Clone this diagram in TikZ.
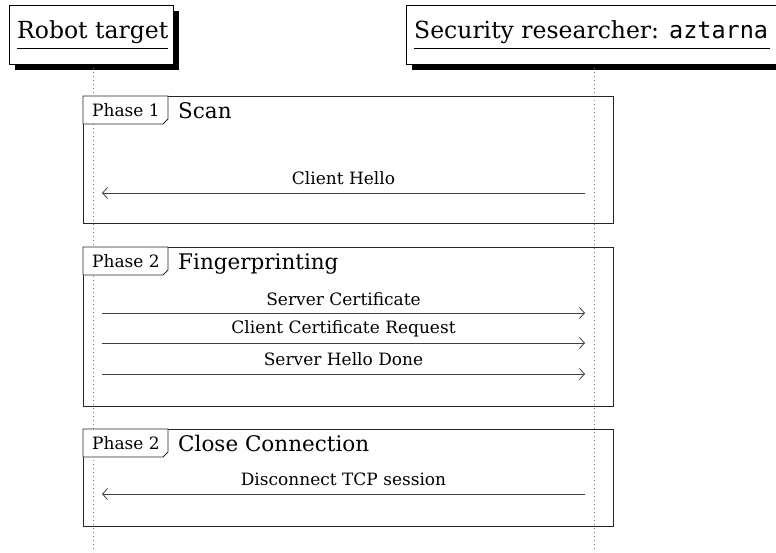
\documentclass[tikz,border=0pt]{standalone}
\usepackage{fontspec}
\setmainfont{DejaVu Serif}
\setmonofont{DejaVu Sans Mono}
\usetikzlibrary{arrows.meta}
\begin{document}
\begin{tikzpicture}[x=1pt,y=-1pt,
  hdrtext/.style={font=\fontsize{23.5}{26}\selectfont, inner sep=0pt, anchor=base west},
  uline/.style={line width=0.7pt},
  lbl/.style={font=\fontsize{17}{20}\selectfont, inner sep=0pt, anchor=base, text=black, yshift=9pt},
  tagtext/.style={font=\fontsize{17}{20}\selectfont, inner sep=0pt, anchor=base west},
  ttltext/.style={font=\fontsize{21.5}{24}\selectfont, inner sep=0pt, anchor=base west},
  life/.style={dash pattern=on 0.8pt off 3.2pt, line width=0.7pt, gray},
  frm/.style={draw=black!85, line width=0.8pt},
  msg/.style={line width=0.8pt, black!75, -{Straight Barb[length=5pt,width=11pt,line width=0.8pt]}}
]
\useasboundingbox (0,0) rectangle (776,552);
% header boxes
\fill[black] (15,11) rectangle (179,70);
\draw[fill=white, line width=0.6pt] (9,5) rectangle (173,64);
\node[hdrtext] (robot) at (17,38) {Robot target};
\draw[uline] ([yshift=-10pt]robot.base west) -- ([yshift=-10pt]robot.base east);
\fill[black] (412,11) rectangle (790,70);
\draw[fill=white, line width=0.6pt] (406,5) rectangle (784,64);
\node[hdrtext] (res) at (414,38) {Security researcher: \texttt{aztarna}};
\draw[uline] ([yshift=-10pt]res.base west) -- ([yshift=-10pt,xshift=2pt]res.base east);
% lifelines
\coordinate (rtop) at (93,68);
\coordinate (rbot) at (93,552);
\coordinate (stop) at (594,68);
\coordinate (sbot) at (594,552);
\draw[life] (rtop) -- (rbot);
\draw[life] (stop) -- (sbot);
% frames
\foreach \t/\b/\ph/\ttl [count=\i] in {96/223/Phase 1/Scan, 247/406/Phase 2/Fingerprinting, 429/526/Phase 2/Close Connection}{
  \draw[frm] (83,\t) rectangle (613,\b);
  \draw[frm, fill=white] (83,\t) -- (168,\t) -- (168,\t+23) -- (163,\t+28) -- (83,\t+28) -- cycle;
  \node[tagtext] at (92,\t+20) {\ph};
  \node[ttltext] at (178,\t+22) {\ttl};
}
% messages
\coordinate (a1s) at (585,193); \coordinate (a1e) at (102,193);
\draw[msg] (a1s) -- node[lbl] (l1) {Client Hello} (a1e);
\coordinate (a2s) at (102,313); \coordinate (a2e) at (585,313);
\draw[msg] (a2s) -- node[lbl, yshift=-1pt] (l2) {Server Certificate} (a2e);
\coordinate (a3s) at (102,343); \coordinate (a3e) at (585,343);
\draw[msg] (a3s) -- node[lbl, yshift=1pt] (l3) {Client Certificate Request} (a3e);
\coordinate (a4s) at (102,374); \coordinate (a4e) at (585,374);
\draw[msg] (a4s) -- node[lbl] (l4) {Server Hello Done} (a4e);
\coordinate (a5s) at (585,494); \coordinate (a5e) at (102,494);
\draw[msg] (a5s) -- node[lbl] (l5) {Disconnect TCP session} (a5e);
\end{tikzpicture}
\end{document}
